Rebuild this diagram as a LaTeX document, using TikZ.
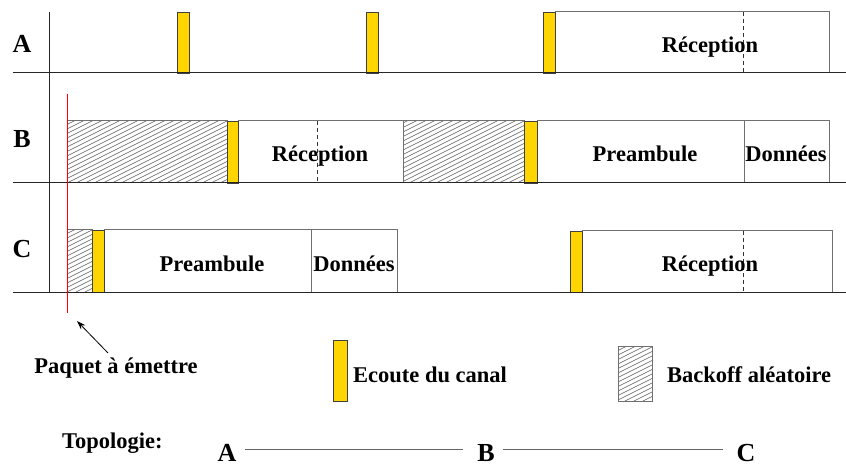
\documentclass[tikz,border=0pt]{standalone}
\usepackage{fontspec}
\setmainfont{Liberation Serif}
\usetikzlibrary{arrows.meta}
\definecolor{gold}{HTML}{FFD500}
\definecolor{edge}{HTML}{707070}
\tikzset{
 txt/.style={font=\fontsize{22.5}{26}\selectfont\bfseries, anchor=base, inner sep=0pt},
 lbl/.style={font=\fontsize{26}{30}\selectfont\bfseries, anchor=base, inner sep=0pt},
 axisline/.style={draw=black!85, line width=1pt},
 boxline/.style={draw=edge, line width=1pt},
 listen/.style={fill=gold, draw=black!75, line width=0.8pt},
 hatchline/.style={draw=black!65, line width=0.5pt},
 divline/.style={draw=black!80, line width=0.8pt, dash pattern=on 4pt off 3pt},
 topoline/.style={draw=black!60, line width=1pt},
}
\newcommand\hatchrect[4]{%
 \begin{scope}
 \clip (#1,#2) rectangle (#3,#4);
 \foreach \k in {-140,-131,...,860} {\draw[hatchline] (\k,#4) -- ++(130,-65);}
 \end{scope}
 \draw[boxline] (#1,#2) rectangle (#3,#4);
}
\begin{document}
\begin{tikzpicture}[x=1pt,y=-1pt]
\useasboundingbox (0,0) rectangle (846,465);

% Row A
\draw[boxline] (555,12) rectangle (829,73);
\draw[divline] (743,12) -- (743,73);
\draw[listen] (177,12) rectangle (189,73);
\draw[listen] (366,12) rectangle (378,73);
\draw[listen] (543,12) rectangle (555,73);

% Row B
\hatchrect{67}{121}{227}{183}
\draw[boxline] (238,121) rectangle (403,183);
\draw[divline] (317,121) -- (317,183);
\hatchrect{403}{121}{524}{183}
\draw[boxline] (537,121) rectangle (744,183);
\draw[boxline] (744,121) rectangle (829,183);
\draw[listen] (227,121) rectangle (238,183);
\draw[listen] (524,121) rectangle (537,183);

% Row C
\hatchrect{67}{230}{92}{292}
\draw[boxline] (104,230) rectangle (311,292);
\draw[boxline] (311,230) rectangle (397,292);
\draw[listen] (92,230) rectangle (104,292);
\draw[boxline] (582,231) rectangle (832,292);
\draw[divline] (743,231) -- (743,292);
\draw[listen] (570,231) rectangle (582,292);

% axes
\draw[axisline] (13,73) -- (846,73);
\draw[axisline] (13,183) -- (846,183);
\draw[axisline] (13,292) -- (846,292);
\draw[axisline] (49,12) -- (49,292);
\draw[red, line width=0.8pt] (67,94) -- (67,313);

% labels
\node[lbl] (labA) at (22,53) {A};
\node[lbl] (labB) at (22,148) {B};
\node[lbl] (labC) at (22,258) {C};
\node[txt] (recA) at (710,53) {Réception};
\node[txt] (recB) at (320,162) {Réception};
\node[txt] (preB) at (645,162) {Preambule};
\node[txt] (donB) at (786,162) {Données};
\node[txt] (preC) at (212,272) {Preambule};
\node[txt] (donC) at (354,272) {Données};
\node[txt] (recC) at (710,272) {Réception};

% pointer
\node[txt] (paquet) at (116,373) {Paquet à émettre};
\coordinate (ptrtail) at (108,353);
\coordinate (ptrhead) at (77,321);
\draw[black, line width=0.8pt, -{Stealth[length=9pt,width=6pt]}] (ptrtail) -- (ptrhead);

% legend
\draw[listen] (333,340) rectangle (347,401);
\node[txt, anchor=base west] (ecoute) at (353,382) {Ecoute du canal};
\hatchrect{618}{346}{652}{401}
\node[txt, anchor=base west] (backoff) at (667,382) {Backoff aléatoire};

% topology
\node[txt, anchor=base west] (topo) at (62,448) {Topologie:};
\node[lbl] (tA) at (227,461) {A};
\node[lbl] (tB) at (486,461) {B};
\node[lbl] (tC) at (746,461) {C};
\coordinate (l1s) at (245,449);
\coordinate (l1e) at (463,449);
\coordinate (l2s) at (503,449);
\coordinate (l2e) at (723,449);
\draw[topoline] (l1s) -- (l1e);
\draw[topoline] (l2s) -- (l2e);
\end{tikzpicture}
\end{document}
